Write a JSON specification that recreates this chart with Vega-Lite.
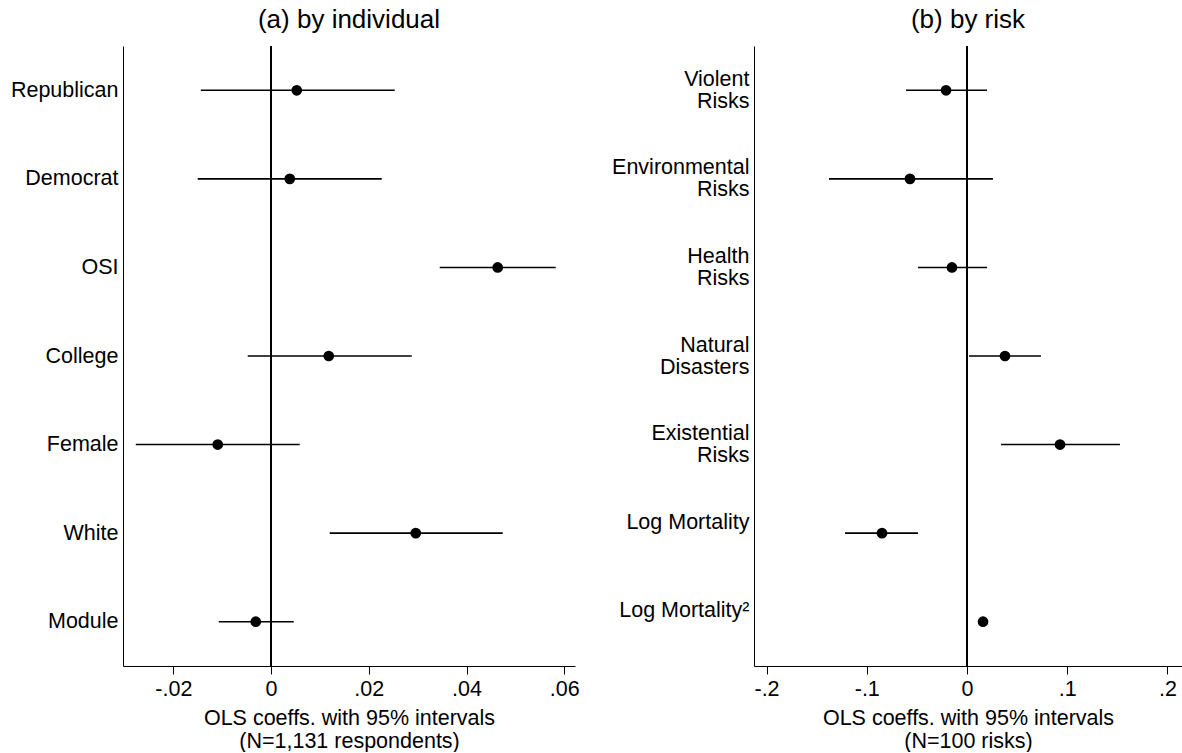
{
  "$schema": "https://vega.github.io/schema/vega-lite/v6.json",
  "padding": {"left": 10, "top": 7, "right": 0, "bottom": 0},
  "background": "white",
  "spacing": 31,
  "config": {
    "font": "Liberation Sans",
    "view": {"stroke": null},
    "title": {"font": "Liberation Sans", "fontSize": 26, "fontWeight": "normal", "color": "black", "frame": "group", "offset": 12},
    "axis": {"labelFont": "Liberation Sans", "labelFontSize": 21.5, "labelColor": "black", "titleFont": "Liberation Sans", "titleFontSize": 21.5, "titleFontWeight": "normal", "titleColor": "black", "domainColor": "black", "tickColor": "black", "grid": false}
  },
  "datasets": {
    "ind": [
      {"label": "Republican", "coef": 0.00526, "lo": -0.01438, "hi": 0.02531},
      {"label": "Democrat", "coef": 0.00383, "lo": -0.0150, "hi": 0.02265},
      {"label": "OSI", "coef": 0.04638, "lo": 0.03452, "hi": 0.05825},
      {"label": "College", "coef": 0.01181, "lo": -0.00477, "hi": 0.02879},
      {"label": "Female", "coef": -0.01091, "lo": -0.02768, "hi": 0.00587},
      {"label": "White", "coef": 0.02961, "lo": 0.01201, "hi": 0.04741},
      {"label": "Module", "coef": -0.00313, "lo": -0.0107, "hi": 0.00464}
    ],
    "risk": [
      {"label": "Violent|Risks", "coef": -0.0209, "lo": -0.0608, "hi": 0.0200},
      {"label": "Environmental|Risks", "coef": -0.0569, "lo": -0.1377, "hi": 0.0259},
      {"label": "Health|Risks", "coef": -0.0150, "lo": -0.0489, "hi": 0.0200},
      {"label": "Natural|Disasters", "coef": 0.0379, "lo": 0.0020, "hi": 0.0738},
      {"label": "Existential|Risks", "coef": 0.0928, "lo": 0.0339, "hi": 0.1526},
      {"label": "Log Mortality", "coef": -0.0848, "lo": -0.1217, "hi": -0.0489},
      {"label": "Log Mortality²", "coef": 0.0160, "lo": 0.0110, "hi": 0.0209}
    ]
  },
  "hconcat": [
    {
      "title": "(a) by individual",
      "width": 452,
      "height": 620,
      "data": {"name": "ind"},
      "layer": [
        {"mark": {"type": "rule", "color": "black", "strokeWidth": 1.5}, "encoding": {"x": {"datum": 0, "type": "quantitative"}}},
        {"mark": {"type": "rule", "color": "black", "strokeWidth": 1.6},
         "encoding": {
           "y": {"field": "label", "type": "nominal", "sort": null, "scale": {"type": "point", "padding": 0.5},
                 "axis": {"title": null, "ticks": false, "labelPadding": 5, "labelLineHeight": 23, "domainWidth": 1}},
           "x": {"field": "lo", "type": "quantitative", "scale": {"domain": [-0.0303, 0.0622], "nice": false, "zero": false},
                 "axis": {"values": [-0.02, 0, 0.02, 0.04, 0.06], "tickSize": 8, "labelPadding": 4, "titlePadding": 8, "titleLineHeight": 23,
                          "labelExpr": "datum.value == 0 ? '0' : (datum.value < 0 ? '-' : '') + replace(format(abs(datum.value), '.2f'), '0.', '.')",
                          "title": ["OLS coeffs. with 95% intervals", "(N=1,131 respondents)"]}},
           "x2": {"field": "hi"}
         }},
        {"mark": {"type": "point", "filled": true, "color": "black", "size": 115, "opacity": 1},
         "encoding": {
           "y": {"field": "label", "type": "nominal", "sort": null},
           "x": {"field": "coef", "type": "quantitative"}
         }}
      ]
    },
    {
      "title": "(b) by risk",
      "width": 428,
      "height": 620,
      "data": {"name": "risk"},
      "layer": [
        {"mark": {"type": "rule", "color": "black", "strokeWidth": 1.5}, "encoding": {"x": {"datum": 0, "type": "quantitative"}}},
        {"mark": {"type": "rule", "color": "black", "strokeWidth": 1.6},
         "encoding": {
           "y": {"field": "label", "type": "nominal", "sort": null, "scale": {"type": "point", "padding": 0.5},
                 "axis": {"title": null, "ticks": false, "labelPadding": 5, "labelLineHeight": 22, "labelOffset": -11, "domainWidth": 1,
                          "labelExpr": "split(datum.label, '|')"}},
           "x": {"field": "lo", "type": "quantitative", "scale": {"domain": [-0.2125, 0.2145], "nice": false, "zero": false},
                 "axis": {"values": [-0.2, -0.1, 0, 0.1, 0.2], "tickSize": 8, "labelPadding": 4, "titlePadding": 8, "titleLineHeight": 23,
                          "labelExpr": "datum.value == 0 ? '0' : (datum.value < 0 ? '-' : '') + replace(format(abs(datum.value), '.1f'), '0.', '.')",
                          "title": ["OLS coeffs. with 95% intervals", "(N=100 risks)"]}},
           "x2": {"field": "hi"}
         }},
        {"mark": {"type": "point", "filled": true, "color": "black", "size": 115, "opacity": 1},
         "encoding": {
           "y": {"field": "label", "type": "nominal", "sort": null},
           "x": {"field": "coef", "type": "quantitative"}
         }}
      ]
    }
  ]
}
